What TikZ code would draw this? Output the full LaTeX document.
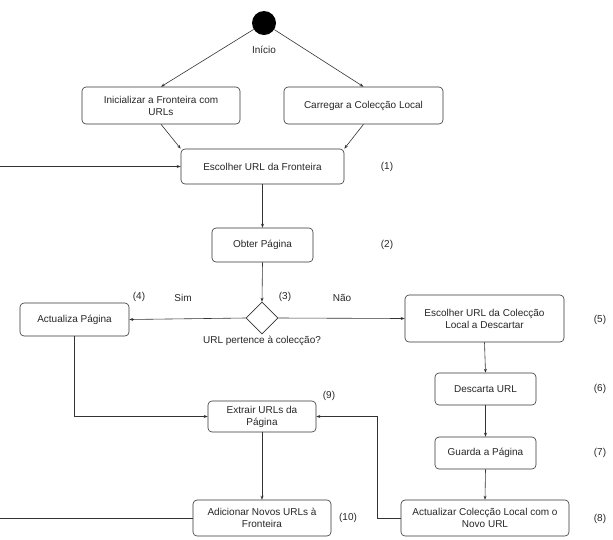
\documentclass[tikz,border=0pt]{standalone}
\usepackage{fontspec}
\setmainfont{Liberation Sans}
\usetikzlibrary{arrows.meta,shapes.geometric}
\begin{document}
\begin{tikzpicture}[x=1pt,y=-1pt,
  every node/.style={font=\fontsize{10}{12}\selectfont, text=black!85},
  act/.style={draw=black!80, line width=0.6pt, rounded corners=4pt, align=center, inner sep=0pt},
  lbl/.style={inner sep=0pt},
  flow/.style={draw=black!80, line width=0.6pt, -{Stealth[length=4pt,width=3pt]}},
  plain/.style={draw=black!80, line width=0.6pt}]
\useasboundingbox (0,0) rectangle (613,539);
% start
\node[circle, fill=black, minimum size=24pt, inner sep=0pt] (start) at (264,23) {};
\node[lbl] (inicio) at (264,50) {Início};
% boxes
\node[act, minimum width=158pt, minimum height=37pt] (A) at (161,105.5) {Inicializar a Fronteira com\\URLs};
\node[act, minimum width=159pt, minimum height=37pt] (B) at (363.5,105.5) {Carregar a Colecção Local};
\node[act, minimum width=163pt, minimum height=35pt] (C) at (262.5,166.5) {Escolher URL da Fronteira};
\node[act, minimum width=101pt, minimum height=34pt] (D) at (262.5,245) {Obter Página};
\node[diamond, draw=black!80, line width=0.6pt, minimum width=32pt, minimum height=32pt, inner sep=0pt] (Q) at (262,318) {};
\node[act, minimum width=109pt, minimum height=33pt] (E) at (74.5,319.5) {Actualiza Página};
\node[act, minimum width=159pt, minimum height=47pt] (F) at (484.5,318.5) {Escolher URL da Colecção\\Local a Descartar};
\node[act, minimum width=101pt, minimum height=32pt] (G) at (485.5,389) {Descarta URL};
\node[act, minimum width=101pt, minimum height=32pt] (H) at (485.5,453) {Guarda a Página};
\node[act, minimum width=168pt, minimum height=36pt] (I) at (485,518) {Actualizar Colecção Local com o\\Novo URL};
\node[act, minimum width=108pt, minimum height=31pt] (J) at (262,416.5) {Extrair URLs da\\Página};
\node[act, minimum width=138pt, minimum height=36pt] (K) at (262,518) {Adicionar Novos URLs à\\Fronteira};
% labels
\node[lbl] (n1) at (387,167) {(1)};
\node[lbl] (n2) at (387,245) {(2)};
\node[lbl] (n3) at (285,297) {(3)};
\node[lbl] (n4) at (139,297) {(4)};
\node[lbl] (n5) at (600,320) {(5)};
\node[lbl] (n6) at (600,389) {(6)};
\node[lbl] (n7) at (600,453) {(7)};
\node[lbl] (n8) at (600,519) {(8)};
\node[lbl] (n9) at (329,396) {(9)};
\node[lbl] (n10) at (348,518) {(10)};
\node[lbl] (sim) at (183,298) {Sim};
\node[lbl] (nao) at (342,298) {Não};
\node[lbl] (qtext) at (262,341) {URL pertence à colecção?};
% free ends
\coordinate (inL) at (0,166.5);
\coordinate (outL) at (0,518);
% connectors
\draw[flow] (start) -- (A.north);
\draw[flow] (start) -- (B.north);
\draw[flow] (A.south) -- (C.north west);
\draw[flow] (B.south) -- (C.north east);
\draw[flow] (inL) -- (C.west);
\draw[flow] (C.south) -- (D.north);
\draw[flow] (D.south) -- (Q.north);
\draw[flow] (Q.west) -- (E.east);
\draw[flow] (Q.east) -- (F.west);
\draw[flow] (F.south) -- (G.north);
\draw[flow] (G.south) -- (H.north);
\draw[flow] (H.south) -- (I.north);
\draw[flow] (E.south) |- (J.west);
\draw[flow] (I.west) -- (377,518) |- (J.east);
\draw[flow] (J.south) -- (K.north);
\draw[plain] (K.west) -- (outL);
\end{tikzpicture}
\end{document}
